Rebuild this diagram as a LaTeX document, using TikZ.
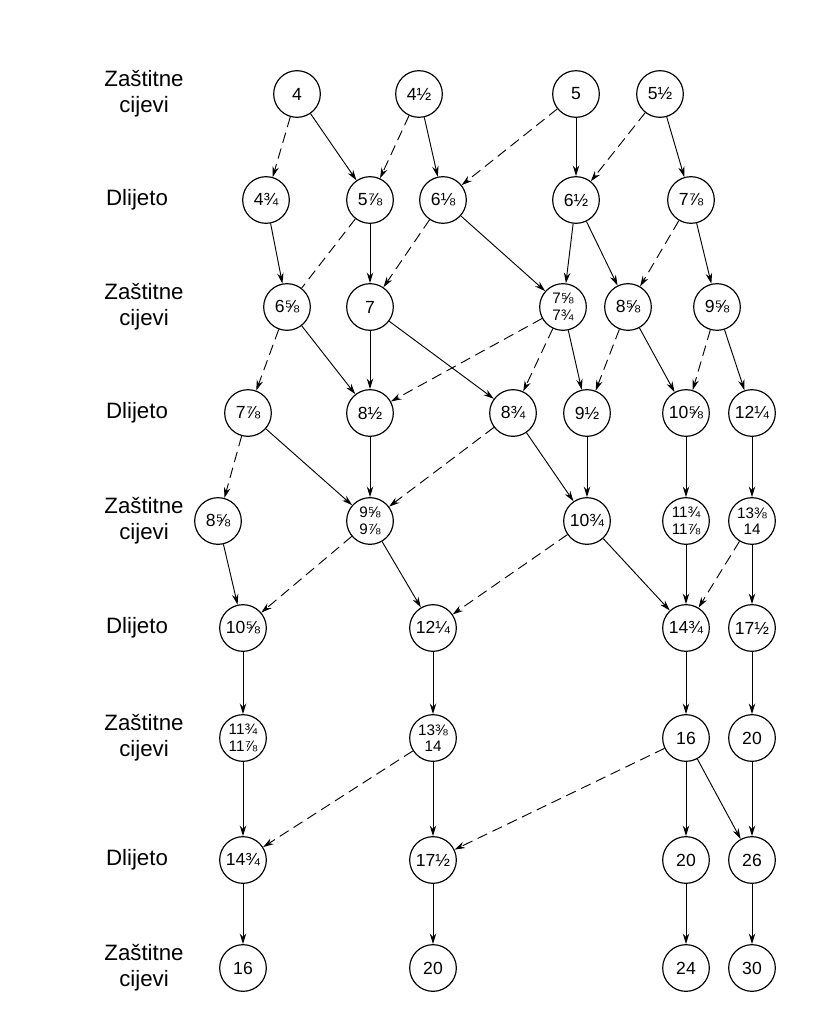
\documentclass[tikz,border=0pt]{standalone}
\usepackage{fontspec}
\setmainfont{Liberation Sans}
\usetikzlibrary{arrows.meta}

\begin{document}
\begin{tikzpicture}[x=0.03cm,y=-0.03cm,
		krug/.style={circle,draw,line width=1pt,minimum size=1.4cm,inner sep=0pt,align=center,font=\fontsize{15}{16}\selectfont},
		dvoj/.style={krug,font=\fontsize{13}{14}\selectfont},
		pun/.style={-{Stealth[length=9pt,width=5.5pt]},line width=0.8pt},
		crt/.style={pun,dash pattern=on 9pt off 5pt},
		oznaka/.style={align=center,font=\fontsize{19}{22}\selectfont}]
		\useasboundingbox (0,0) rectangle (817,1013);
		% oznake redova
		\foreach \x/\y/\t [count=\i] in {144/94/{Zaštitne\\cijevi},137/200/Dlijeto,144/307/{Zaštitne\\cijevi},137/413/Dlijeto,144/521/{Zaštitne\\cijevi},137/628/Dlijeto,144/738/{Zaštitne\\cijevi},137/860/Dlijeto,144/968/{Zaštitne\\cijevi}}
		\node[oznaka] (L\i) at (\x,\y) {\t};

		% red 1
		\node[krug] (Z1a) at (297,94) {4};
		\node[krug] (Z1b) at (419,94) {4½};
		\node[krug] (Z1c) at (576,94) {5};
		\node[krug] (Z1d) at (660,94) {5½};
		% red 2
		\node[krug] (D2a) at (266,200) {4¾};
		\node[krug] (D2b) at (370,200) {5⅞};
		\node[krug] (D2c) at (443,200) {6⅛};
		\node[krug] (D2d) at (576,200) {6½};
		\node[krug] (D2e) at (691,200) {7⅞};
		% red 3
		\node[krug] (Z3a) at (287,307) {6⅝};
		\node[krug] (Z3b) at (370,307) {7};
		\node[dvoj] (Z3c) at (563,307) {7⅝\\7¾};
		\node[krug] (Z3d) at (628,307) {8⅝};
		\node[krug] (Z3e) at (717,307) {9⅝};
		% red 4
		\node[krug] (D4a) at (248,413) {7⅞};
		\node[krug] (D4b) at (370,413) {8½};
		\node[krug] (D4c) at (513,413) {8¾};
		\node[krug] (D4d) at (587,413) {9½};
		\node[krug] (D4e) at (686,413) {10⅝};
		\node[krug] (D4f) at (752,413) {12¼};
		% red 5
		\node[krug] (Z5a) at (218,521) {8⅝};
		\node[dvoj] (Z5b) at (370,521) {9⅝\\9⅞};
		\node[krug] (Z5c) at (587,521) {10¾};
		\node[dvoj] (Z5d) at (686,521) {11¾\\11⅞};
		\node[dvoj] (Z5e) at (752,521) {13⅜\\14};
		% red 6
		\node[krug] (D6a) at (243,628) {10⅝};
		\node[krug] (D6b) at (433,628) {12¼};
		\node[krug] (D6c) at (686,628) {14¾};
		\node[krug] (D6d) at (752,628) {17½};
		% red 7
		\node[dvoj] (Z7a) at (243,738) {11¾\\11⅞};
		\node[dvoj] (Z7b) at (433,738) {13⅜\\14};
		\node[krug] (Z7c) at (686,738) {16};
		\node[krug] (Z7d) at (752,738) {20};
		% red 8
		\node[krug] (D8a) at (243,860) {14¾};
		\node[krug] (D8b) at (433,860) {17½};
		\node[krug] (D8c) at (686,860) {20};
		\node[krug] (D8d) at (752,860) {26};
		% red 9
		\node[krug] (Z9a) at (243,968) {16};
		\node[krug] (Z9b) at (433,968) {20};
		\node[krug] (Z9c) at (686,968) {24};
		\node[krug] (Z9d) at (752,968) {30};

		% pune strelice
		\foreach \a/\b in {Z1a/D2b,Z1b/D2c,Z1c/D2d,Z1d/D2e,
			D2a/Z3a,D2b/Z3b,D2c/Z3c,D2d/Z3c,D2d/Z3d,D2e/Z3e,
			Z3a/D4b,Z3b/D4b,Z3b/D4c,Z3c/D4d,Z3d/D4e,Z3e/D4f,
			D4a/Z5b,D4b/Z5b,D4c/Z5c,D4d/Z5c,D4e/Z5d,D4f/Z5e,
			Z5a/D6a,Z5b/D6b,Z5c/D6c,Z5d/D6c,Z5e/D6d,
			D6a/Z7a,D6b/Z7b,D6c/Z7c,D6d/Z7d,
			Z7a/D8a,Z7b/D8b,Z7c/D8c,Z7c/D8d,Z7d/D8d,
			D8a/Z9a,D8b/Z9b,D8c/Z9c,D8d/Z9d}
		\draw[pun] (\a) -- (\b);
		% isprekidane strelice
		\foreach \a/\b in {Z1a/D2a,Z1b/D2b,Z1c/D2c,Z1d/D2d,
			D2c/Z3b,D2e/Z3d,
			Z3a/D4a,Z3c/D4b,Z3c/D4c,Z3d/D4d,Z3e/D4e,
			D4a/Z5a,D4c/Z5b,
			Z5b/D6a,Z5c/D6b,Z5e/D6c,
			Z7b/D8a,Z7c/D8b}
		\draw[crt] (\a) -- (\b);
		\draw[crt,-] (D2b) -- (Z3a);

	    \end{tikzpicture}
\end{document}
